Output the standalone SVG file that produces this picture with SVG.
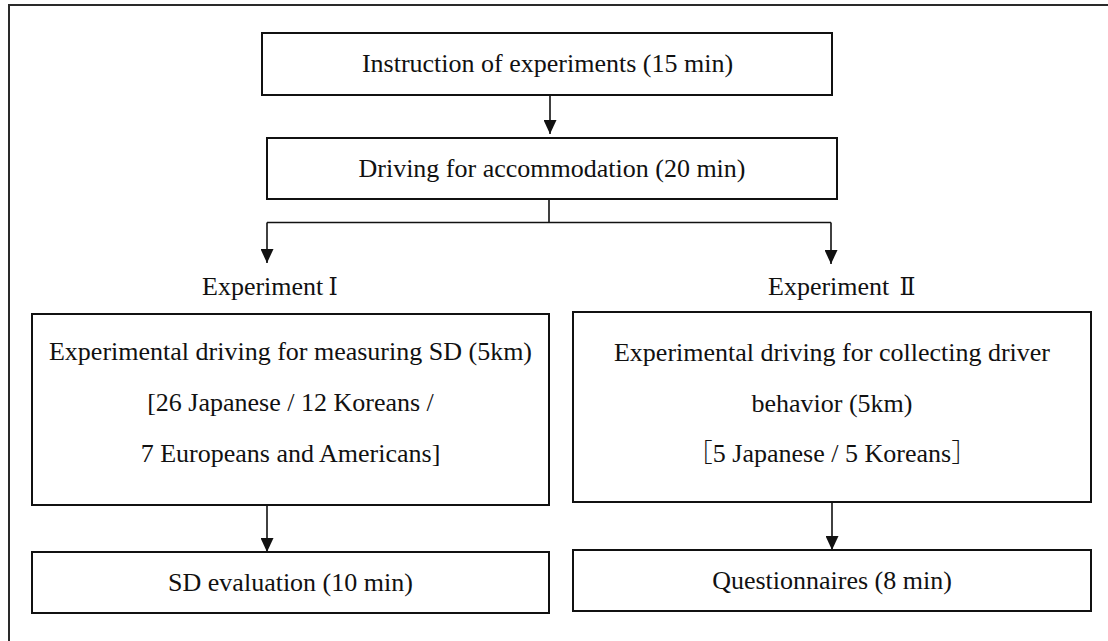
<svg xmlns="http://www.w3.org/2000/svg" width="1108" height="641" viewBox="0 0 1108 641">
  <style>
    .frame { fill: none; stroke: #2a2a2a; stroke-width: 2; }
    .box { fill: #ffffff; stroke: #111111; stroke-width: 2; }
    .lbl { font-size: 26px; fill: #111111; }
    .mid { text-anchor: middle; }
    .wire { fill: none; stroke: #111111; stroke-width: 1.6; }
  </style>
  <defs>
    <marker id="head" markerUnits="userSpaceOnUse" markerWidth="14" markerHeight="13" refX="14" refY="6.5" orient="auto">
      <path d="M0,0 L14,6.5 L0,13 z" fill="#111111"/>
    </marker>
  </defs>

  <rect x="0" y="0" width="1108" height="641" fill="#ffffff"/>
  <!-- outer border, running past the right and bottom edges -->
  <rect class="frame" x="9" y="5" width="1120" height="660"/>

  <g id="connectors">
    <path class="wire" d="M550,95 V134" marker-end="url(#head)"/>
    <path class="wire" d="M549,199 V222.5 M267,222.5 H831"/>
    <path class="wire" d="M267,222.5 V263" marker-end="url(#head)"/>
    <path class="wire" d="M831,222.5 V264" marker-end="url(#head)"/>
    <path class="wire" d="M267,505 V552" marker-end="url(#head)"/>
    <path class="wire" d="M832,502 V550" marker-end="url(#head)"/>
  </g>

  <g font-family="Liberation Serif, Times New Roman, serif">
    <g id="instruction">
      <rect class="box" x="262" y="33" width="570" height="62"/>
      <text class="lbl mid" x="547.5" y="72">Instruction of experiments (15 min)</text>
    </g>

    <g id="accommodation">
      <rect class="box" x="267" y="138" width="570" height="61"/>
      <text class="lbl mid" x="552" y="177">Driving for accommodation (20 min)</text>
    </g>

    <g id="label-exp1">
      <text class="lbl" x="202" y="295">Experiment<tspan x="328.5" font-family="DejaVu Serif, Noto Sans CJK JP, serif" font-size="23.5">Ⅰ</tspan></text>
    </g>

    <g id="label-exp2">
      <text class="lbl" x="768" y="295">Experiment <tspan x="899.5" font-family="DejaVu Serif, Noto Sans CJK JP, serif" font-size="23.5">Ⅱ</tspan></text>
    </g>

    <g id="driving-sd">
      <rect class="box" x="32" y="314" width="517" height="191"/>
      <text class="lbl mid" x="290.5" y="360">Experimental driving for measuring SD (5km)</text>
      <text class="lbl mid" x="290.5" y="411">[26 Japanese / 12 Koreans /</text>
      <text class="lbl mid" x="290.5" y="462">7 Europeans and Americans]</text>
    </g>

    <g id="driving-behavior">
      <rect class="box" x="573" y="312" width="518" height="190"/>
      <text class="lbl mid" x="832" y="361">Experimental driving for collecting driver</text>
      <text class="lbl mid" x="832" y="412">behavior (5km)</text>
      <text class="lbl mid" x="832" y="462"><tspan font-family="Noto Sans CJK JP, sans-serif" font-weight="300">［</tspan>5 Japanese / 5 Koreans<tspan font-family="Noto Sans CJK JP, sans-serif" font-weight="300">］</tspan></text>
    </g>

    <g id="sd-evaluation">
      <rect class="box" x="32" y="552" width="517" height="61"/>
      <text class="lbl mid" x="290.5" y="591">SD evaluation (10 min)</text>
    </g>

    <g id="questionnaires">
      <rect class="box" x="573" y="550" width="518" height="61"/>
      <text class="lbl mid" x="832" y="589">Questionnaires (8 min)</text>
    </g>
  </g>
</svg>
